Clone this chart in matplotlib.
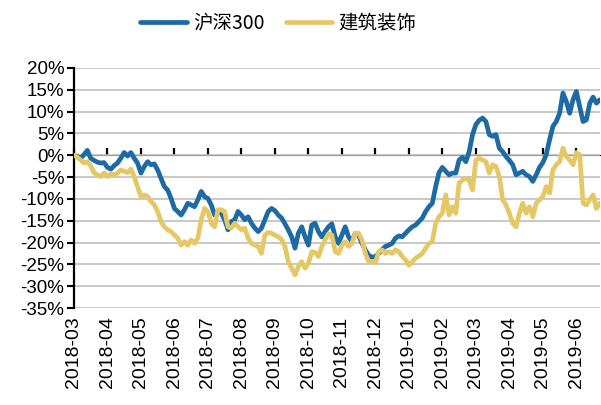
import matplotlib
matplotlib.use("Agg")
import matplotlib.pyplot as plt
import numpy as np

plt.rcParams["font.family"] = ["Liberation Sans", "Noto Sans CJK SC", "DejaVu Sans"]

# cumulative return (%), sampled about every 2 trading days from 2018-03 to 2019-06
hs300 = [
    0.0, -0.3, -0.7, 0.1, 1.1, -0.7, -1.2, -1.6, -1.8, -1.7,
    -2.8, -3.2, -2.4, -1.8, -0.7, 0.6, -0.2, 0.6, -0.7, -1.8,
    -4.1, -2.6, -1.5, -2.2, -2.0, -3.4, -5.3, -7.2, -8.0, -9.9,
    -12.2, -12.9, -13.7, -12.5, -11.0, -11.4, -11.8, -10.2, -8.3, -9.5,
    -9.9, -11.4, -13.7, -12.9, -13.3, -14.8, -17.1, -15.2, -14.8, -12.9,
    -13.7, -14.8, -14.1, -15.6, -16.7, -17.5, -16.7, -14.8, -12.9, -12.2,
    -12.7, -13.7, -14.4, -15.7, -17.1, -18.7, -21.3, -17.9, -16.4, -18.7,
    -20.6, -16.0, -15.6, -17.5, -18.7, -17.5, -16.4, -15.7,
    -18.7, -20.2, -18.3, -16.4, -18.7, -19.8, -17.9, -18.3, -20.2, -21.7,
    -22.9, -23.4, -23.2, -22.5, -21.6, -20.9, -20.6, -20.2, -19.0, -18.5,
    -18.7, -17.9, -17.1, -16.4, -16.0, -15.2, -14.4, -12.9, -11.8, -11.0,
    -7.2, -4.0, -2.8, -3.7, -4.5, -4.1, -4.1, -1.1, -0.5, -1.5,
    0.8, 4.7, 7.0, 8.0, 8.5, 7.7, 4.7, 4.3, 4.7, 1.6,
    0.8, -0.3, -1.2, -2.2, -4.5, -4.1, -3.7, -4.5, -4.9, -6.0,
    -4.5, -2.8, -1.7, 0.1, 3.5, 6.6, 7.7, 9.6, 14.2, 12.3,
    9.6, 12.7, 14.6, 11.2, 7.7, 8.1, 11.9, 13.3, 11.9, 12.7,
]
jzzs = [
    0.0, -0.5, -1.1, -1.8, -1.5, -2.4, -4.0, -4.5, -4.9, -4.1,
    -4.9, -4.3, -4.5, -4.1, -3.4, -3.7, -4.0, -3.2, -4.9, -7.2,
    -9.5, -9.1, -9.5, -10.6, -11.4, -12.9, -15.2, -16.4, -17.1, -17.5,
    -18.3, -19.0, -20.6, -19.8, -20.6, -19.4, -20.2, -19.0, -14.8, -12.2,
    -12.9, -15.6, -16.4, -12.5, -12.5, -12.9, -16.4, -16.7, -15.6, -16.4,
    -17.1, -16.7, -19.0, -20.2, -20.6, -20.9, -22.5, -18.3, -17.7, -17.9,
    -18.3, -18.7, -19.3, -20.9, -24.4, -25.9, -27.4, -25.5, -24.4, -25.9,
    -24.8, -22.1, -22.3, -23.2, -20.9, -19.4, -18.0, -18.3,
    -22.1, -22.5, -20.6, -19.8, -20.9, -20.2, -17.9, -17.9, -19.4, -22.5,
    -24.4, -24.4, -24.6, -22.1, -21.7, -22.5, -22.1, -22.5, -21.7, -22.1,
    -23.2, -24.0, -25.2, -24.4, -23.6, -23.1, -22.5, -21.3, -20.2, -19.8,
    -15.6, -14.1, -13.3, -9.1, -13.7, -11.8, -13.3, -6.4, -5.7, -5.3,
    -5.7, -8.0, -1.1, -0.7, -1.1, -1.5, -4.1, -2.2, -2.6, -4.9,
    -10.2, -11.4, -13.3, -15.6, -16.4, -13.3, -11.0, -13.3, -11.8, -14.1,
    -11.0, -10.2, -9.5, -7.2, -8.7, -3.4, -2.2, -1.5, 1.6, -0.3,
    -1.1, -2.2, 0.6, 0.1, -11.0, -11.4, -10.2, -9.1, -12.2, -11.0,
]
month_labels = [
    "2018-03", "2018-04", "2018-05", "2018-06", "2018-07", "2018-08",
    "2018-09", "2018-10", "2018-11", "2018-12", "2019-01", "2019-02",
    "2019-03", "2019-04", "2019-05", "2019-06",
]
y_ticks = list(range(-35, 21, 5))
samples_per_month = 10

fig = plt.figure(figsize=(6.01, 4.05), dpi=100)
ax = fig.add_axes([0.123, 0.2395, 0.875, 0.593])

x = np.arange(len(hs300))
ax.plot(x, hs300, color="#1D6AA5", linewidth=3.4, label="沪深300",
        solid_capstyle="round", solid_joinstyle="round", zorder=3)
ax.plot(np.arange(len(jzzs)), jzzs, color="#E5C866", linewidth=3.4, label="建筑装饰",
        solid_capstyle="round", solid_joinstyle="round", zorder=4)

ax.set_xlim(0, len(hs300) - 1)
ax.set_ylim(-35, 20)

# y axis
ax.set_yticks(y_ticks)
ax.set_yticklabels([f"{v}%" for v in y_ticks], fontsize=13.5)
ax.yaxis.grid(True, color="#BFBFBF", linewidth=1.2)
ax.set_axisbelow(True)
ax.tick_params(axis="y", direction="out", length=5, width=1.5, color="black", pad=2)
ax.spines["left"].set_linewidth(1.6)
for side in ["top", "right", "bottom"]:
    ax.spines[side].set_visible(False)

# month labels at the bottom, tick marks on the zero line
month_pos = [i * samples_per_month for i in range(len(month_labels))]
ax.set_xticks(month_pos)
ax.set_xticklabels(month_labels, rotation=90, fontsize=14)
ax.tick_params(axis="x", length=0, pad=6)

zero = ax.secondary_xaxis(35 / 55)
zero.set_xticks(month_pos)
zero.set_xticklabels([])
zero.tick_params(axis="x", direction="out", length=5, width=1.6, color="black")
zero.spines["bottom"].set_linewidth(1.8)
zero.spines["bottom"].set_color("black")

fig.legend(loc="upper center", bbox_to_anchor=(0.463, 1.012), ncol=2, frameon=False,
           handlelength=2.4, handletextpad=0.3, columnspacing=1.1,
           prop={"family": ["Noto Sans CJK SC", "DejaVu Sans"], "size": 14})

fig.savefig("out.png", dpi=100)
